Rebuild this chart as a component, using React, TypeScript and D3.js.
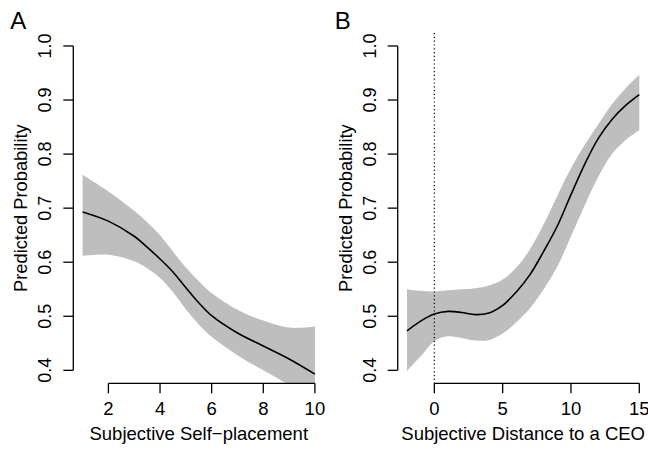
import * as d3 from "d3";

// Panel A: predicted probability by subjective self-placement
const selfX = [1, 2, 3, 3.5, 4, 4.5, 5, 5.5, 6, 7, 8, 9, 10];
const selfFit = [0.693, 0.676, 0.648, 0.628, 0.606, 0.582, 0.553, 0.525, 0.501, 0.469, 0.445, 0.421, 0.393];
const selfUpper = [0.762, 0.731, 0.695, 0.674, 0.65, 0.62, 0.59, 0.565, 0.543, 0.512, 0.492, 0.479, 0.481];
const selfLower = [0.612, 0.614, 0.602, 0.589, 0.571, 0.545, 0.513, 0.485, 0.462, 0.428, 0.4, 0.373, 0.345];
const selfTicks = [2, 4, 6, 8, 10];

// Panel B: predicted probability by subjective distance to a CEO
const ceoX = [-2, -1, 0, 1, 2, 3, 4, 5, 6, 7, 8, 9, 10, 11, 12, 13, 14, 15];
const ceoFit = [0.473, 0.491, 0.504, 0.509, 0.507, 0.503, 0.506, 0.52, 0.545, 0.577, 0.62, 0.667, 0.725, 0.781, 0.829, 0.864, 0.89, 0.91];
const ceoUpper = [0.55, 0.547, 0.546, 0.548, 0.55, 0.552, 0.557, 0.568, 0.59, 0.624, 0.67, 0.723, 0.774, 0.817, 0.855, 0.892, 0.922, 0.947];
const ceoLower = [0.399, 0.426, 0.454, 0.463, 0.46, 0.455, 0.456, 0.468, 0.489, 0.515, 0.55, 0.592, 0.648, 0.705, 0.758, 0.8, 0.826, 0.844];
const ceoTicks = [0, 5, 10, 15];

const yTicks = [0.4, 0.5, 0.6, 0.7, 0.8, 0.9, 1.0];
const yLim = [0.4, 1.0];

const W = 648;
const H = 450;
const FONT = "'Liberation Sans', Arial, Helvetica, sans-serif";
const top = 33;
const bottom = 383.3;
const plotW = 250.9;
const tick = 10;

type PanelProps = {
  letter: string;
  left: number;
  xs: number[];
  fit: number[];
  lo: number[];
  hi: number[];
  xTicks: number[];
  xTitle: string;
  refLine?: number;
  id: string;
};

// R style: usr range is data range stretched by 4% on each side
function pad4(a: number, b: number): [number, number] {
  const d = (b - a) * 0.04;
  return [a - d, b + d];
}

function Panel({ letter, left, xs, fit, lo, hi, xTicks, xTitle, refLine, id }: PanelProps) {
  const x = d3.scaleLinear().domain(pad4(d3.min(xs)!, d3.max(xs)!)).range([left, left + plotW]);
  const y = d3.scaleLinear().domain(pad4(yLim[0], yLim[1])).range([bottom, top]);

  const rows = xs.map((v, i) => ({ x: v, fit: fit[i], lo: lo[i], hi: hi[i] }));
  const band = d3
    .area<(typeof rows)[0]>()
    .x((d) => x(d.x))
    .y0((d) => y(d.lo))
    .y1((d) => y(d.hi))
    .curve(d3.curveCatmullRom.alpha(0.5));
  const line = d3
    .line<(typeof rows)[0]>()
    .x((d) => x(d.x))
    .y((d) => y(d.fit))
    .curve(d3.curveCatmullRom.alpha(0.5));

  const axisX = left;
  const xt0 = x(xTicks[0]);
  const xt1 = x(xTicks[xTicks.length - 1]);
  const midX = left + plotW / 2;
  const midY = (top + bottom) / 2;

  return (
    <g>
      <defs>
        <clipPath id={id}>
          <rect x={left} y={top} width={plotW} height={bottom - top} />
        </clipPath>
      </defs>
      <g clipPath={`url(#${id})`}>
        <path d={band(rows) ?? ""} fill="#bebebe" stroke="none" />
        {refLine !== undefined && (
          <line
            x1={x(refLine)}
            x2={x(refLine)}
            y1={top}
            y2={bottom}
            stroke="#000"
            strokeWidth={1.2}
            strokeDasharray="1.2 2.6"
          />
        )}
        <path d={line(rows) ?? ""} fill="none" stroke="#000" strokeWidth={1.6} />
      </g>

      {/* y axis */}
      <line x1={axisX} x2={axisX} y1={y(yTicks[0])} y2={y(yTicks[yTicks.length - 1])} stroke="#000" strokeWidth={1.3} />
      {yTicks.map((t) => (
        <g key={t}>
          <line x1={axisX - tick} x2={axisX} y1={y(t)} y2={y(t)} stroke="#000" strokeWidth={1.3} />
          <text
            transform={`translate(${axisX - 22},${y(t)}) rotate(-90)`}
            textAnchor="middle"
            fontSize={18}
            fontFamily={FONT}
          >
            {d3.format(".1f")(t)}
          </text>
        </g>
      ))}

      {/* x axis */}
      <line x1={xt0} x2={xt1} y1={bottom} y2={bottom} stroke="#000" strokeWidth={1.3} />
      {xTicks.map((t) => (
        <g key={t}>
          <line x1={x(t)} x2={x(t)} y1={bottom} y2={bottom + tick} stroke="#000" strokeWidth={1.3} />
          <text x={x(t)} y={415} textAnchor="middle" fontSize={18.5} fontFamily={FONT}>
            {t}
          </text>
        </g>
      ))}

      <text x={midX} y={440} textAnchor="middle" fontSize={18.5} fontFamily={FONT}>
        {xTitle}
      </text>
      <text
        transform={`translate(${axisX - 46},${midY}) rotate(-90)`}
        textAnchor="middle"
        fontSize={18.3}
        fontFamily={FONT}
      >
        Predicted Probability
      </text>
      <text x={axisX - 63} y={28.5} fontSize={24} fontFamily={FONT}>
        {letter}
      </text>
    </g>
  );
}

export default function App() {
  return (
    <div style={{ position: "fixed", left: 0, top: 0 }}>
      <svg width={W} height={H} viewBox={`0 0 ${W} ${H}`} style={{ display: "block", background: "#fff" }}>
        <rect width={W} height={H} fill="#fff" />
        <Panel
          id="clipA"
          letter="A"
          left={73.3}
          xs={selfX}
          fit={selfFit}
          lo={selfLower}
          hi={selfUpper}
          xTicks={selfTicks}
          xTitle="Subjective Self−placement"
        />
        <Panel
          id="clipB"
          letter="B"
          left={397.7}
          xs={ceoX}
          fit={ceoFit}
          lo={ceoLower}
          hi={ceoUpper}
          xTicks={ceoTicks}
          xTitle="Subjective Distance to a CEO"
          refLine={0}
        />
      </svg>
    </div>
  );
}
